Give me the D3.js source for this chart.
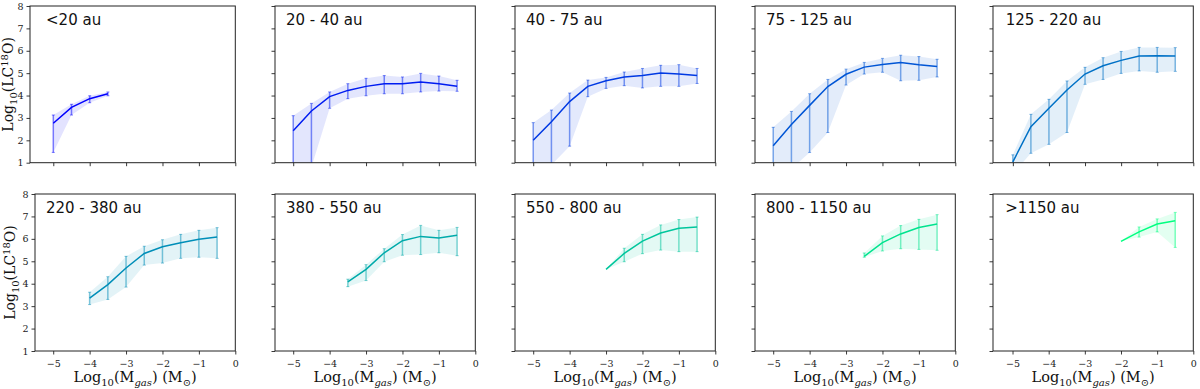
<!DOCTYPE html>
<html><head><meta charset="utf-8">
<script src="https://cdn.jsdelivr.net/npm/d3@7"></script>
<style>body{margin:0;background:#fff}svg{display:block}</style>
</head><body>
<svg id="chart" width="1200" height="389"></svg>
<script>
// ---------------- data ----------------
const titles = ["<20 au","20 - 40 au","40 - 75 au","75 - 125 au","125 - 220 au",
                "220 - 380 au","380 - 550 au","550 - 800 au","800 - 1150 au",">1150 au"];

const massBins = [
  [-5,-4.5,-4,-3.5],
  [-5,-4.5,-4,-3.5,-3,-2.5,-2,-1.5,-1,-0.5],
  [-5,-4.5,-4,-3.5,-3,-2.5,-2,-1.5,-1,-0.5],
  [-5,-4.5,-4,-3.5,-3,-2.5,-2,-1.5,-1,-0.5],
  [-5,-4.5,-4,-3.5,-3,-2.5,-2,-1.5,-1,-0.5],
  [-4,-3.5,-3,-2.5,-2,-1.5,-1,-0.5],
  [-3.5,-3,-2.5,-2,-1.5,-1,-0.5],
  [-3,-2.5,-2,-1.5,-1,-0.5],
  [-2.5,-2,-1.5,-1,-0.5],
  [-2,-1.5,-1,-0.5]
];
const meanVals = [
  [2.76,3.47,3.86,4.08],
  [2.43,3.31,3.95,4.23,4.41,4.53,4.53,4.60,4.53,4.41],
  [2.00,2.83,3.73,4.41,4.66,4.83,4.90,5.01,4.96,4.90],
  [1.76,2.71,3.56,4.40,4.95,5.27,5.39,5.48,5.38,5.30],
  [1.04,2.61,3.43,4.25,4.96,5.33,5.57,5.77,5.78,5.77],
  [3.36,3.96,4.70,5.35,5.65,5.83,5.98,6.08],
  [4.08,4.64,5.38,5.92,6.11,6.04,6.16],
  [4.64,5.35,5.90,6.26,6.47,6.53],
  [5.22,5.83,6.22,6.51,6.66],
  [5.89,6.31,6.66,6.81]
];
const upperVals = [
  [3.13,3.61,3.99,4.16],
  [3.10,3.65,4.16,4.53,4.77,4.89,4.83,4.99,4.87,4.68],
  [2.79,3.35,4.11,4.69,4.81,5.05,5.21,5.35,5.38,5.21],
  [2.58,3.29,4.08,4.72,5.18,5.48,5.66,5.80,5.74,5.62],
  [1.35,3.16,3.83,4.65,5.26,5.69,5.97,6.15,6.15,6.14],
  [3.62,4.31,5.22,5.67,5.96,6.20,6.38,6.50],
  [4.20,4.85,5.56,6.19,6.60,6.38,6.51],
  [4.64,5.58,6.20,6.62,6.86,6.97],
  [5.37,6.13,6.59,6.87,7.08],
  [5.89,6.53,6.89,7.18]
];
const lowerVals = [
  [1.46,3.13,3.68,3.99],
  [0.50,0.80,3.43,3.86,3.99,4.08,4.08,4.16,4.20,4.19],
  [0.50,0.90,1.74,3.95,4.32,4.44,4.34,4.41,4.41,4.54],
  [0.50,0.73,1.46,2.35,4.47,4.96,5.04,4.66,4.68,4.83],
  [0.50,1.42,1.82,2.35,4.50,4.72,4.99,5.10,5.04,5.08],
  [3.07,3.30,3.85,4.83,4.92,5.13,5.18,5.13],
  [3.87,4.14,4.98,5.27,5.30,5.38,5.25],
  [4.64,4.98,5.34,5.50,5.43,5.43],
  [5.18,5.46,5.56,5.53,5.49],
  [5.89,6.08,6.31,5.62]
];
const yTicks = [1,2,3,4,5,6,7,8];
const xTicks = [-5,-4,-3,-2,-1,0];
const xLimits = [-5.64,-5.5,-5.5,-5.5,-5.55,-5.5,-5.5,-5.5,-5.5,-5.54];

// ---------------- style / layout ----------------
const colors = ["#0000ff","#001cf1","#0039e3","#0055d5","#0071c6",
                "#008eb8","#00aaaa","#00c69c","#00e38e","#00ff80"];
const rowTop = [6,194], rowBottom = [162.7,351];
const panelLeft = [[30,275,515,755,993],[35,275,515,755,993]];
const panelRight = [235.3,475.3,715.3,955.3,1193.3];
const yLabelX = [13,15];

const svg = d3.select("#chart");
const defs = svg.append("defs");
const fmt = d3.format("d");

titles.forEach((title,i)=>{
  const r = Math.floor(i/5), c = i%5;
  const L = panelLeft[r][c], R = panelRight[c], T = rowTop[r], B = rowBottom[r];
  const x = d3.scaleLinear().domain([xLimits[i],0]).range([L,R]);
  const y = d3.scaleLinear().domain([1,8]).range([B,T]);
  const col = colors[i];
  const g = svg.append("g");

  defs.append("clipPath").attr("id","clip"+i)
    .append("rect").attr("x",L).attr("y",T).attr("width",R-L).attr("height",B-T);

  const pts = massBins[i].map((m,k)=>({m, v:meanVals[i][k], hi:upperVals[i][k], lo:lowerVals[i][k]}));
  const plot = g.append("g").attr("clip-path",`url(#clip${i})`);

  plot.append("path").datum(pts)
    .attr("d", d3.area().x(d=>x(d.m)).y0(d=>y(d.lo)).y1(d=>y(d.hi)))
    .attr("fill",col).attr("fill-opacity",0.11).attr("stroke","none");

  const eb = plot.append("g").attr("stroke",col).attr("stroke-opacity",0.5).attr("stroke-width",1.5);
  pts.forEach(d=>{
    if (d.hi - d.lo < 0.02) return;
    eb.append("line").attr("x1",x(d.m)).attr("x2",x(d.m)).attr("y1",y(d.lo)).attr("y2",y(d.hi));
    [d.lo,d.hi].forEach(v=>eb.append("line").attr("stroke-width",1)
      .attr("x1",x(d.m)-1.5).attr("x2",x(d.m)+1.5).attr("y1",y(v)).attr("y2",y(v)));
  });

  plot.append("path").datum(pts)
    .attr("d", d3.line().x(d=>x(d.m)).y(d=>y(d.v)))
    .attr("fill","none").attr("stroke",col).attr("stroke-width",1.5);

  // axes
  const ya = g.append("g").attr("transform",`translate(${L},0)`)
    .call(d3.axisLeft(y).tickValues(yTicks).tickSize(3.5).tickPadding(3)
      .tickFormat(c===0 ? fmt : ()=>""));
  const xa = g.append("g").attr("transform",`translate(0,${B})`)
    .call(d3.axisBottom(x).tickValues(xTicks).tickSize(3.5).tickPadding(5.5)
      .tickFormat(r===1 ? fmt : ()=>""));
  [ya,xa].forEach(a=>{
    a.select(".domain").remove();
    a.attr("font-family","DejaVu Serif").attr("font-size",9.5);
    a.selectAll(".tick line").attr("stroke","#222").attr("stroke-width",0.9);
    a.selectAll("text").attr("fill","#222");
  });

  g.append("rect").attr("x",L).attr("y",T).attr("width",R-L).attr("height",B-T)
    .attr("fill","none").attr("stroke","#222").attr("stroke-width",1);

  g.append("text").attr("x",x(-5.2)).attr("y",y(7.15))
    .style("font-family","DejaVu Sans").style("font-size","15px").attr("fill","#111")
    .text(title);

  if (c===0){
    const t = g.append("text").attr("transform",`translate(${yLabelX[r]},${(T+B)/2}) rotate(-90)`)
      .attr("text-anchor","middle").style("font-family","DejaVu Serif").style("font-size","14px").attr("fill","#111");
    t.append("tspan").text("Log");
    t.append("tspan").attr("dy",3.5).style("font-size","10px").text("10");
    t.append("tspan").attr("dy",-3.5).text("(LC");
    t.append("tspan").attr("dy",-5).style("font-size","10px").text("18");
    t.append("tspan").attr("dy",5).text("O)");
  }
  if (r===1){
    const t = g.append("text").attr("x",(L+R)/2).attr("y",382)
      .attr("text-anchor","middle").style("font-family","DejaVu Serif").style("font-size","14.5px").attr("fill","#111");
    t.append("tspan").text("Log");
    t.append("tspan").attr("dy",4).style("font-size","10px").text("10");
    t.append("tspan").attr("dy",-4).text("(M");
    t.append("tspan").attr("dy",4).style("font-size","10px").style("font-style","italic").text("gas");
    t.append("tspan").attr("dy",-4).text(") (M");
    t.append("tspan").attr("dy",4).style("font-size","10px").text("\u2299");
    t.append("tspan").attr("dy",-4).text(")");
  }
});
</script>
</body></html>
